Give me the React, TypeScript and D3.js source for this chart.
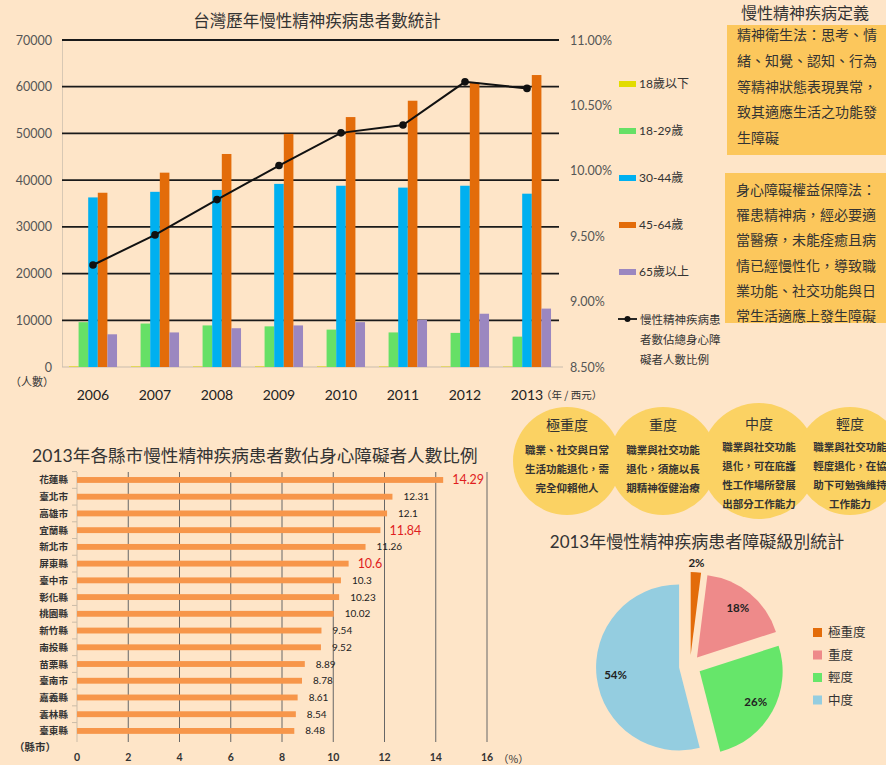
import React from "react";
import * as d3 from "d3";

// ---------- Top chart data ----------
const years = ["2006", "2007", "2008", "2009", "2010", "2011", "2012", "2013"];
const seriesNames = ["18歲以下", "18-29歲", "30-44歲", "45-64歲", "65歲以上"];
const under18 = [120, 110, 100, 120, 110, 100, 90, 80];
const age18to29 = [9600, 9300, 8900, 8700, 8000, 7400, 7300, 6500];
const age30to44 = [36300, 37500, 37900, 39200, 38800, 38400, 38800, 37100];
const age45to64 = [37300, 41600, 45600, 49900, 53500, 57000, 60900, 62500];
const age65plus = [7000, 7400, 8300, 8900, 9600, 10100, 11400, 12500];
const ratioPct = [9.28, 9.51, 9.78, 10.04, 10.29, 10.35, 10.68, 10.63];
const leftTicks = [0, 10000, 20000, 30000, 40000, 50000, 60000, 70000];
const rightTicks = [8.5, 9.0, 9.5, 10.0, 10.5, 11.0];
const lineLegendLines = ["慢性精神疾病患", "者數佔總身心障", "礙者人數比例"];

// ---------- Definitions ----------
const defTitle = "慢性精神疾病定義";
const def1Lines = ["精神衛生法：思考、情", "緒、知覺、認知、行為", "等精神狀態表現異常，", "致其適應生活之功能發", "生障礙"];
const def2Lines = ["身心障礙權益保障法：", "罹患精神病，經必要適", "當醫療，未能痊癒且病", "情已經慢性化，導致職", "業功能、社交功能與日", "常生活適應上發生障礙"];

// ---------- Circles ----------
const levelTitles = ["極重度", "重度", "中度", "輕度"];
const levelTexts = [
  ["職業、社交與日常", "生活功能退化，需", "完全仰賴他人"],
  ["職業與社交功能", "退化，須施以長", "期精神復健治療"],
  ["職業與社交功能", "退化，可在庇護", "性工作場所發展", "出部分工作能力"],
  ["職業與社交功能", "輕度退化，在協", "助下可勉強維持", "工作能力"],
];

// ---------- County bar chart ----------
const counties = ["花蓮縣", "臺北市", "高雄市", "宜蘭縣", "新北市", "屏東縣", "臺中市", "彰化縣", "桃園縣", "新竹縣", "南投縣", "苗栗縣", "臺南市", "嘉義縣", "雲林縣", "臺東縣"];
const countyValues = [14.29, 12.31, 12.1, 11.84, 11.26, 10.6, 10.3, 10.23, 10.02, 9.54, 9.52, 8.89, 8.78, 8.61, 8.54, 8.48];
const highlighted = ["花蓮縣", "宜蘭縣", "屏東縣"];
const countyTicks = [0, 2, 4, 6, 8, 10, 12, 14, 16];

// ---------- Pie ----------
const pieLabels = ["極重度", "重度", "輕度", "中度"];
const pieValues = [2, 18, 26, 54];

const BG = "#fee5c8";
const CJK = "'Noto Sans CJK TC', sans-serif";
const MIX = "Lato, 'Noto Sans CJK TC', sans-serif";
const seriesColors = ["#e2dc00", "#66e066", "#00b0f0", "#e36c0a", "#9b87c0"];
const pieColors = ["#e36c0a", "#ee8a8a", "#66e66a", "#94cde0"];

export default function App() {
  // top chart scales
  const yL = d3.scaleLinear().domain([0, 70000]).range([367, 40]);
  const yR = d3.scaleLinear().domain([8.5, 11]).range([367, 40]);
  const x0 = d3.scaleBand<string>().domain(years).range([62, 558]).paddingInner(0.225).paddingOuter(0.1125);
  const x1 = d3.scaleBand<string>().domain(seriesNames).range([0, x0.bandwidth()]);
  const seriesValues = [under18, age18to29, age30to44, age45to64, age65plus];
  const line = d3
    .line<number>()
    .x((_, i) => (x0(years[i]) as number) + x0.bandwidth() / 2)
    .y((d) => yR(d));

  // county chart scales
  const xc = d3.scaleLinear().domain([0, 16]).range([77, 487]);
  const yc = d3.scaleBand<string>().domain(counties).range([471.6, 739.3]).paddingInner(0.65).paddingOuter(0.325);

  // pie
  const cx = 690, cy = 666, R = 83, explode = 11;
  const pie = d3.pie<number>().sort(null).value((d) => d)(pieValues);
  const arc = d3.arc<d3.PieArcDatum<number>>().innerRadius(0).outerRadius(R);

  const legendY = [84, 131, 178, 225, 272];
  const circleCx = [567, 663, 759, 850];
  const circleR = [54, 54, 58, 54];

  return (
    <svg width={886} height={765} style={{ position: "absolute", left: 0, top: 0, background: BG }}>
      <rect x={0} y={0} width={886} height={765} fill={BG} />

      {/* ===== Top chart ===== */}
      <text x={317} y={27} textAnchor="middle" fontFamily={CJK} fontSize={16.5} fill="#333">台灣歷年慢性精神疾病患者數統計</text>
      <line x1={62.5} x2={62.5} y1={40} y2={367} stroke="#d8c8b4" />
      {leftTicks.map((t) => (
        <g key={t}>
          {t > 0 ? (
            <line x1={62} x2={559} y1={yL(t)} y2={yL(t)} stroke="#1a1a1a" strokeWidth={1.8} />
          ) : (
            <line x1={62} x2={563} y1={yL(t)} y2={yL(t)} stroke="#c9bcad" strokeWidth={1} />
          )}
          <text x={52} y={yL(t) + 4.5} textAnchor="end" fontFamily={MIX} fontSize={12.5} fill="#555">{t}</text>
        </g>
      ))}
      {rightTicks.map((t) => (
        <text key={t} x={570} y={yR(t) + 4.5} fontFamily={MIX} fontSize={12.5} fill="#555">{t.toFixed(2) + "%"}</text>
      ))}
      {years.map((yr, i) => (
        <g key={yr}>
          {seriesNames.map((s, k) => {
            const v = seriesValues[k][i];
            return (
              <rect
                key={s}
                x={(x0(yr) as number) + (x1(s) as number)}
                y={yL(v)}
                width={x1.bandwidth()}
                height={yL(0) - yL(v)}
                fill={seriesColors[k]}
              />
            );
          })}
          <text x={(x0(yr) as number) + x0.bandwidth() / 2} y={400} textAnchor="middle" fontFamily={MIX} fontSize={14} fill="#222">{yr}</text>
        </g>
      ))}
      <path d={line(ratioPct) || ""} fill="none" stroke="#111" strokeWidth={2} />
      {ratioPct.map((v, i) => (
        <circle key={i} cx={(x0(years[i]) as number) + x0.bandwidth() / 2} cy={yR(v)} r={3.8} fill="#111" />
      ))}
      <text x={10} y={386} fontFamily={CJK} fontSize={11} fill="#333">（人數）</text>
      <text x={541} y={399} fontFamily={CJK} fontSize={10.5} fill="#333">（年 / 西元）</text>

      {/* legend */}
      {seriesNames.map((s, k) => (
        <g key={s}>
          <rect x={619} y={legendY[k] - 3} width={17} height={6} fill={seriesColors[k]} />
          <text x={639} y={legendY[k] + 4} fontFamily={MIX} fontSize={12} fill="#333">{s}</text>
        </g>
      ))}
      <line x1={618} x2={637} y1={319} y2={319} stroke="#111" strokeWidth={1.8} />
      <circle cx={627.5} cy={319} r={3} fill="#111" />
      {lineLegendLines.map((t, i) => (
        <text key={t} x={640} y={324 + i * 20} fontFamily={CJK} fontSize={11.5} fill="#333">{t}</text>
      ))}

      {/* ===== Definitions ===== */}
      <text x={741} y={19} fontFamily={CJK} fontSize={16} fill="#333">{defTitle}</text>
      <rect x={727} y={25} width={159} height={130} fill="#fcc75c" />
      {def1Lines.map((t, i) => (
        <text key={i} x={737} y={40 + i * 25.8} fontFamily={CJK} fontSize={14} fill="#333">{t}</text>
      ))}
      <rect x={725} y={173} width={161} height={150} fill="#fcc75c" />
      {def2Lines.map((t, i) => (
        <text key={i} x={736} y={195 + i * 25.2} fontFamily={CJK} fontSize={14} fill="#333">{t}</text>
      ))}

      {/* ===== Circles ===== */}
      {circleCx.map((c, i) => (
        <circle key={i} cx={c} cy={461} r={circleR[i]} fill="#fbd263" />
      ))}
      {levelTitles.map((t, i) => {
        const lines = levelTexts[i];
        const four = lines.length === 4;
        return (
          <g key={t}>
            <text x={circleCx[i]} y={four ? 428.5 : 430} textAnchor="middle" fontFamily={CJK} fontSize={14} fill="#333">{t}</text>
            {lines.map((l, j) => (
              <text key={j} x={circleCx[i]} y={(four ? 451 : 454) + j * 19} textAnchor="middle" fontFamily={CJK} fontSize={10.5} fontWeight={700} fill="#333">{l}</text>
            ))}
          </g>
        );
      })}

      {/* ===== County bar chart ===== */}
      <text x={32} y={462} fontFamily={MIX} fontSize={17.6} fill="#333">2013年各縣市慢性精神疾病患者數佔身心障礙者人數比例</text>
      {countyTicks.slice(1).map((t) => (
        <line key={t} x1={xc(t)} x2={xc(t)} y1={472} y2={742} stroke="#666" strokeWidth={1} />
      ))}
      <line x1={77} x2={77} y1={472} y2={742} stroke="#cbbca8" strokeWidth={1} />
      {counties.map((c) => (
        <line key={c} x1={72} x2={77} y1={(yc(c) as number) - yc.step() * 0.325} y2={(yc(c) as number) - yc.step() * 0.325} stroke="#cbbca8" />
      ))}
      {counties.map((c, i) => {
        const v = countyValues[i];
        const yy = (yc(c) as number) + yc.bandwidth() / 2;
        const red = highlighted.includes(c);
        return (
          <g key={c}>
            <text x={68} y={yy + 3.5} textAnchor="end" fontFamily={CJK} fontSize={9.6} fontWeight={700} fill="#333">{c}</text>
            <rect x={xc(0)} y={yc(c) as number} width={xc(v) - xc(0)} height={yc.bandwidth()} fill="#f7964a" />
            <text x={xc(v) + (red ? 9 : 11)} y={yy + (red ? 4.5 : 3.5)} fontFamily={MIX} fontSize={red ? 12.5 : 10} fill={red ? "#e01e1e" : "#222"}>{String(v)}</text>
          </g>
        );
      })}
      {countyTicks.map((t) => (
        <text key={t} x={xc(t)} y={761} textAnchor="middle" fontFamily={MIX} fontSize={10.5} fontWeight={700} fill="#333">{t}</text>
      ))}
      <text x={14} y={751} fontFamily={CJK} fontSize={10.5} fontWeight={700} fill="#333">（縣市）</text>
      <text x={498} y={763} fontFamily={CJK} fontSize={10.5} fill="#333">（%）</text>

      {/* ===== Pie ===== */}
      <text x={697} y={548} textAnchor="middle" fontFamily={MIX} fontSize={17} fill="#333">2013年慢性精神疾病患者障礙級別統計</text>
      {pie.map((p, i) => {
        const mid = (p.startAngle + p.endAngle) / 2;
        const dx = explode * Math.sin(mid);
        const dy = -explode * Math.cos(mid);
        const lr = i === 0 ? 103 : 75;
        const lx = cx + lr * Math.sin(mid);
        const ly = cy - lr * Math.cos(mid);
        return (
          <g key={i}>
            <path d={arc(p) || ""} transform={`translate(${cx + dx},${cy + dy})`} fill={pieColors[i]} />
            <text x={lx} y={ly + 4} textAnchor="middle" fontFamily={MIX} fontSize={11.5} fontWeight={700} fill="#222">{pieValues[i] + "%"}</text>
          </g>
        );
      })}
      {pieLabels.map((l, i) => (
        <g key={l}>
          <rect x={813} y={628 + i * 22.5} width={9} height={9} fill={pieColors[i]} />
          <text x={828} y={637 + i * 22.5} fontFamily={CJK} fontSize={12.5} fill="#333">{l}</text>
        </g>
      ))}
    </svg>
  );
}
